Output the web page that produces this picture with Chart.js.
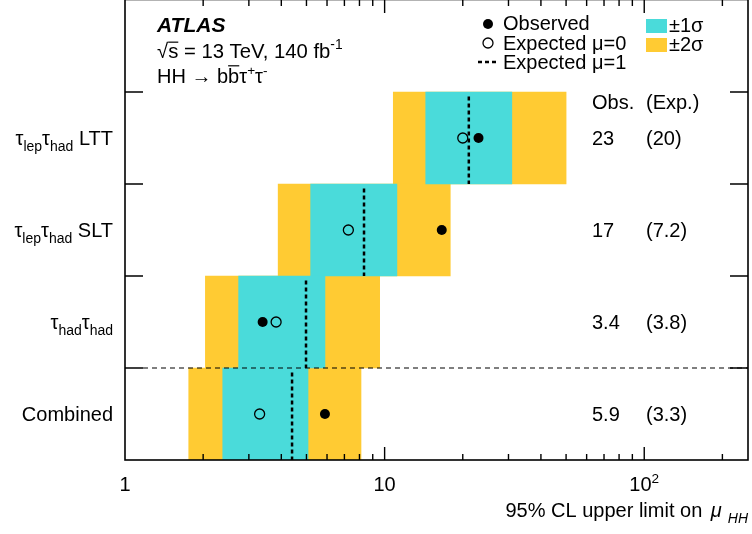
<!DOCTYPE html>
<html>
<head>
<meta charset="utf-8">
<script src="https://cdn.jsdelivr.net/npm/chart.js@4.4.1/dist/chart.umd.min.js"></script>
<style>
  html, body { margin: 0; padding: 0; background: #fff; }
  #wrap { width: 752px; height: 534px; }
</style>
</head>
<body>
<div id="wrap"><canvas id="limitChart" width="752" height="534"></canvas></div>
<script>
// categories, top to bottom
const categories = ['τ_{lep}τ_{had} LTT', 'τ_{lep}τ_{had} SLT', 'τ_{had}τ_{had}', 'Combined'];

// 95% CL upper limits on mu_HH
const observed    = [23.0, 16.6, 3.39, 5.89];
const expectedMu0 = [20.0, 7.25, 3.82, 3.30];
const expectedMu1 = [21.1, 8.33, 4.98, 4.40];
const band2Lo = [10.8, 3.89, 2.04, 1.76];
const band1Lo = [14.4, 5.19, 2.74, 2.38];
const band1Hi = [30.9, 11.15, 5.89, 5.07];
const band2Hi = [50.0, 17.9, 9.57, 8.11];

const obsLabels = ['23', '17', '3.4', '5.9'];
const expLabels = ['(20)', '(7.2)', '(3.8)', '(3.3)'];

const xTickValues = [1, 10, 100];
const xTickLabels = ['1', '10', '10^{2}'];
const xMin = 1;
const xMax = 251;

const FONT = "'Liberation Sans', Arial, Helvetica, sans-serif";
const CYAN = '#4ADBDA';
const YELLOW = '#FFCB33';

function rowY(i) {
    return categories.length - i - 0.5;
}

function parseRich(s) {
    const out = [];
    const re = /_\{([^}]*)\}|\^\{([^}]*)\}|([^_^]+)/g;
    let m;
    while ((m = re.exec(s))) {
        if (m[1] !== undefined) out.push({ t: m[1], pos: 'sub' });
        else if (m[2] !== undefined) out.push({ t: m[2], pos: 'sup' });
        else out.push({ t: m[3] });
    }
    return out;
}

// draw a run of text pieces (sub/sup/overline/italic) at baseline y
function drawRich(ctx, segs, x, y, align, size, style) {
    style = style || '';
    const fontFor = (s) => {
        let sz = size;
        if (s.pos === 'sub') sz = size * 0.7;
        if (s.pos === 'sup') sz = size * 0.68;
        return ((s.italic ? 'italic ' : style + ' ') + sz + 'px ' + FONT).trim();
    };
    let total = 0;
    const widths = segs.map(s => {
        ctx.font = fontFor(s);
        const w = ctx.measureText(s.t).width + (s.gap || 0);
        total += w;
        return w;
    });
    let cx = x;
    if (align === 'right') cx = x - total;
    if (align === 'center') cx = x - total / 2;
    ctx.textAlign = 'left';
    ctx.textBaseline = 'alphabetic';
    segs.forEach((s, i) => {
        ctx.font = fontFor(s);
        let dy = 0;
        if (s.pos === 'sub') dy = size * 0.3;
        if (s.pos === 'sup') dy = -size * 0.42;
        ctx.fillText(s.t, cx + (s.gap || 0), y + dy);
        if (s.over) {
            ctx.beginPath();
            ctx.lineWidth = 1.2;
            ctx.moveTo(cx, y - size * s.over);
            ctx.lineTo(cx + widths[i], y - size * s.over);
            ctx.stroke();
        }
        cx += widths[i];
    });
}

const atlasDecor = {
    id: 'atlasDecor',
    afterDatasetsDraw(chart) {
        const { ctx, chartArea: a, scales: { x, y } } = chart;
        ctx.save();
        ctx.fillStyle = '#000';
        ctx.strokeStyle = '#000';

        // dashed separator above the combined row
        const ySep = y.getPixelForValue(1);
        ctx.beginPath();
        ctx.setLineDash([5, 4]);
        ctx.lineWidth = 1.2;
        ctx.moveTo(a.left + 18, ySep);
        ctx.lineTo(a.right, ySep);
        ctx.stroke();
        ctx.setLineDash([]);

        // frame
        ctx.lineWidth = 1.6;
        ctx.strokeRect(a.left, a.top - 0.5, a.right - a.left, a.bottom - a.top + 0.5);

        // x ticks, pointing inward top and bottom
        ctx.lineWidth = 1.4;
        for (let d = xMin; d <= xMax; d *= 10) {
            for (let k = 1; k <= 9; k++) {
                const v = k * d;
                if (v <= xMin || v >= xMax) continue;
                const px = x.getPixelForValue(v);
                const len = k === 1 ? 13 : 6;
                ctx.beginPath();
                ctx.moveTo(px, a.bottom);
                ctx.lineTo(px, a.bottom - len);
                ctx.moveTo(px, a.top);
                ctx.lineTo(px, a.top + len);
                ctx.stroke();
            }
        }

        // y ticks at row boundaries
        for (let b = 1; b <= categories.length; b++) {
            const py = y.getPixelForValue(b);
            ctx.beginPath();
            ctx.moveTo(a.left, py);
            ctx.lineTo(a.left + 18, py);
            ctx.moveTo(a.right, py);
            ctx.lineTo(a.right - 18, py);
            ctx.stroke();
        }

        // x tick labels
        xTickValues.forEach((v, i) => {
            drawRich(ctx, parseRich(xTickLabels[i]), x.getPixelForValue(v), 491, 'center', 20);
        });

        // axis title
        drawRich(ctx, [
            { t: '95% CL upper limit on ' },
            { t: 'μ', italic: true, gap: 3 },
            { t: 'HH', pos: 'sub', italic: true, gap: 6 }
        ], 748, 517, 'right', 20);

        // category labels and limit values
        categories.forEach((c, i) => {
            const py = y.getPixelForValue(rowY(i)) + 7;
            drawRich(ctx, parseRich(c), 113, py, 'right', 20);
            drawRich(ctx, [{ t: obsLabels[i] }], 592, py, 'left', 20);
            drawRich(ctx, [{ t: expLabels[i] }], 646, py, 'left', 20);
        });
        drawRich(ctx, [{ t: 'Obs.' }], 592, 109, 'left', 20);
        drawRich(ctx, [{ t: '(Exp.)' }], 646, 109, 'left', 20);

        // ATLAS label
        drawRich(ctx, [{ t: 'ATLAS' }], 157, 32, 'left', 21, 'italic bold');
        drawRich(ctx, [
            { t: '√' },
            { t: 's', over: 0.78 },
            { t: ' = 13 TeV, 140 fb' },
            { t: '-1', pos: 'sup' }
        ], 157, 58, 'left', 20.3);
        drawRich(ctx, [
            { t: 'HH → b' },
            { t: 'b', over: 0.86 },
            { t: 'τ' },
            { t: '+', pos: 'sup' },
            { t: 'τ' },
            { t: '-', pos: 'sup' }
        ], 157, 83, 'left', 20);

        // legend
        ctx.beginPath();
        ctx.arc(488, 24, 5, 0, Math.PI * 2);
        ctx.fill();
        ctx.beginPath();
        ctx.lineWidth = 1.3;
        ctx.arc(488, 43, 5, 0, Math.PI * 2);
        ctx.stroke();
        ctx.beginPath();
        ctx.lineWidth = 2.5;
        ctx.setLineDash([4, 3]);
        ctx.moveTo(478, 62);
        ctx.lineTo(499, 62);
        ctx.stroke();
        ctx.setLineDash([]);
        drawRich(ctx, [{ t: 'Observed' }], 503, 30, 'left', 20);
        drawRich(ctx, [{ t: 'Expected μ=0' }], 503, 50, 'left', 20);
        drawRich(ctx, [{ t: 'Expected μ=1' }], 503, 69, 'left', 20);

        ctx.fillStyle = CYAN;
        ctx.fillRect(646, 19, 21, 14);
        ctx.fillStyle = YELLOW;
        ctx.fillRect(646, 38, 21, 14);
        ctx.fillStyle = '#000';
        drawRich(ctx, [{ t: '±1σ' }], 669, 32, 'left', 20);
        drawRich(ctx, [{ t: '±2σ' }], 669, 51, 'left', 20);

        ctx.restore();
    }
};

const datasets = [];

datasets.push({
    type: 'bar',
    label: '±2σ',
    indexAxis: 'y',
    data: categories.map((c, i) => ({ y: rowY(i), x: [band2Lo[i], band2Hi[i]] })),
    backgroundColor: YELLOW,
    borderWidth: 0,
    grouped: false,
    barPercentage: 1.0,
    categoryPercentage: 1.0,
    order: 10
});

datasets.push({
    type: 'bar',
    label: '±1σ',
    indexAxis: 'y',
    data: categories.map((c, i) => ({ y: rowY(i), x: [band1Lo[i], band1Hi[i]] })),
    backgroundColor: CYAN,
    borderWidth: 0,
    grouped: false,
    barPercentage: 1.0,
    categoryPercentage: 1.0,
    order: 9
});

// expected mu=1 dashed line, one per row
expectedMu1.forEach((v, i) => {
    datasets.push({
        type: 'line',
        label: 'Expected μ=1',
        data: [{ x: v, y: rowY(i) + 0.45 }, { x: v, y: rowY(i) - 0.5 }],
        borderColor: '#000',
        borderWidth: 2.5,
        borderDash: [4, 3],
        pointRadius: 0,
        fill: false,
        order: 5
    });
});

datasets.push({
    type: 'scatter',
    label: 'Expected μ=0',
    data: expectedMu0.map((v, i) => ({ x: v, y: rowY(i) })),
    pointRadius: 5,
    pointBackgroundColor: 'rgba(0,0,0,0)',
    pointBorderColor: '#000',
    pointBorderWidth: 1.3,
    order: 2
});

datasets.push({
    type: 'scatter',
    label: 'Observed',
    data: observed.map((v, i) => ({ x: v, y: rowY(i) })),
    pointRadius: 5,
    pointBackgroundColor: '#000',
    pointBorderWidth: 0,
    order: 1
});

new Chart(document.getElementById('limitChart'), {
    type: 'bar',
    data: { datasets: datasets },
    options: {
        responsive: false,
        animation: false,
        events: [],
        layout: { autoPadding: false, padding: { left: 125, right: 4, top: 0, bottom: 74 } },
        scales: {
            x: {
                type: 'logarithmic',
                min: xMin,
                max: xMax,
                offset: false,
                display: false
            },
            y: {
                type: 'linear',
                min: 0,
                max: categories.length + 1,
                offset: false,
                ticks: { stepSize: 1 },
                display: false
            }
        },
        plugins: {
            legend: { display: false },
            tooltip: { enabled: false }
        }
    },
    plugins: [atlasDecor]
});
</script>
</body>
</html>
